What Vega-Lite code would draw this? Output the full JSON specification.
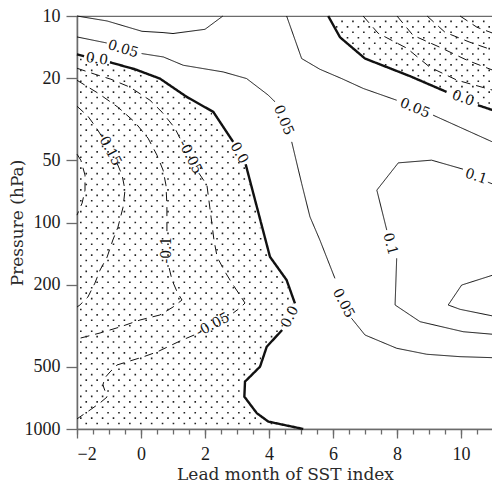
{
  "$schema": "https://vega.github.io/schema/vega-lite/v6.json",
  "width": 416,
  "height": 413,
  "autosize": "none",
  "padding": {"left": 77, "top": 16, "right": 0, "bottom": 58},
  "background": "white",
  "config": {
    "view": {"stroke": "#6b6b6b", "strokeWidth": 1.2},
    "axis": {
      "grid": false,
      "domainColor": "#6b6b6b",
      "domainWidth": 1.5,
      "tickColor": "#6b6b6b",
      "tickWidth": 1.3,
      "labelFont": "Liberation Serif",
      "labelFontSize": 18,
      "labelColor": "#1a1a1a",
      "titleFont": "DejaVu Serif",
      "titleFontSize": 17,
      "titleFontWeight": "normal",
      "titleColor": "#2a2a2a"
    }
  },
  "datasets": {
    "contours": [
      {"level": 0.1, "seg": "p01a", "x": -2, "p": 10},
      {"level": 0.1, "seg": "p01a", "x": -1.06, "p": 10.57},
      {"level": 0.1, "seg": "p01a", "x": 0.03, "p": 11.86},
      {"level": 0.1, "seg": "p01a", "x": 0.69, "p": 12.03},
      {"level": 0.1, "seg": "p01a", "x": 1.0, "p": 12.16},
      {"level": 0.1, "seg": "p01a", "x": 2.0, "p": 11.6},
      {"level": 0.1, "seg": "p01a", "x": 2.56, "p": 10},

      {"level": 0.05, "seg": "p005a", "x": -2, "p": 12.63},
      {"level": 0.05, "seg": "p005a", "x": -1.07, "p": 13.51},
      {"level": 0.05, "seg": "p005b", "x": 0.02, "p": 15.2},
      {"level": 0.05, "seg": "p005b", "x": 0.7, "p": 15.79},
      {"level": 0.05, "seg": "p005b", "x": 1.32, "p": 17.32},
      {"level": 0.05, "seg": "p005b", "x": 2.57, "p": 18.66},
      {"level": 0.05, "seg": "p005b", "x": 3.3, "p": 20.09},
      {"level": 0.05, "seg": "p005b", "x": 3.98, "p": 24.19},
      {"level": 0.05, "seg": "p005b", "x": 4.19, "p": 26.07},
      {"level": 0.05, "seg": "p005c", "x": 4.71, "p": 40.7},
      {"level": 0.05, "seg": "p005c", "x": 4.92, "p": 55.78},
      {"level": 0.05, "seg": "p005c", "x": 5.02, "p": 64.69},
      {"level": 0.05, "seg": "p005c", "x": 5.28, "p": 93.85},
      {"level": 0.05, "seg": "p005c", "x": 5.59, "p": 121.6},
      {"level": 0.05, "seg": "p005c", "x": 6.06, "p": 186.4},
      {"level": 0.05, "seg": "p005d", "x": 6.58, "p": 291.1},
      {"level": 0.05, "seg": "p005d", "x": 7.0, "p": 350.6},
      {"level": 0.05, "seg": "p005d", "x": 7.99, "p": 406.5},
      {"level": 0.05, "seg": "p005d", "x": 8.93, "p": 434.6},
      {"level": 0.05, "seg": "p005d", "x": 9.97, "p": 446.4},
      {"level": 0.05, "seg": "p005d", "x": 11, "p": 451.5},

      {"level": 0.05, "seg": "p005e", "x": 4.55, "p": 10},
      {"level": 0.05, "seg": "p005e", "x": 5.02, "p": 16.07},
      {"level": 0.05, "seg": "p005e", "x": 5.59, "p": 18.11},
      {"level": 0.05, "seg": "p005e", "x": 6.27, "p": 20.09},
      {"level": 0.05, "seg": "p005e", "x": 6.95, "p": 22.45},
      {"level": 0.05, "seg": "p005e", "x": 7.99, "p": 25.58},
      {"level": 0.05, "seg": "p005f", "x": 9.13, "p": 30.22},
      {"level": 0.05, "seg": "p005f", "x": 11, "p": 40.83},

      {"level": 0, "seg": "z0a", "x": -2, "p": 15.32},
      {"level": 0, "seg": "z0a", "x": -1.78, "p": 15.67},
      {"level": 0, "seg": "z0b", "x": -0.97, "p": 16.75},
      {"level": 0, "seg": "z0b", "x": -0.19, "p": 18.11},
      {"level": 0, "seg": "z0b", "x": 0.59, "p": 20.09},
      {"level": 0, "seg": "z0b", "x": 1.43, "p": 24.65},
      {"level": 0, "seg": "z0b", "x": 2.26, "p": 29.13},
      {"level": 0, "seg": "z0b", "x": 2.88, "p": 40.7},
      {"level": 0, "seg": "z0c", "x": 3.27, "p": 52.19},
      {"level": 0, "seg": "z0c", "x": 3.62, "p": 83.95},
      {"level": 0, "seg": "z0c", "x": 4.03, "p": 146.6},
      {"level": 0, "seg": "z0c", "x": 4.55, "p": 189.9},
      {"level": 0, "seg": "z0c", "x": 4.81, "p": 246.3},
      {"level": 0, "seg": "z0d", "x": 4.41, "p": 331.7},
      {"level": 0, "seg": "z0d", "x": 3.93, "p": 399.4},
      {"level": 0, "seg": "z0d", "x": 3.72, "p": 499},
      {"level": 0, "seg": "z0d", "x": 3.25, "p": 589.7},
      {"level": 0, "seg": "z0d", "x": 3.23, "p": 697.1},
      {"level": 0, "seg": "z0d", "x": 3.62, "p": 838.7},
      {"level": 0, "seg": "z0d", "x": 3.98, "p": 920.9},
      {"level": 0, "seg": "z0d", "x": 5.07, "p": 1000},

      {"level": 0, "seg": "z0e", "x": 5.85, "p": 10},
      {"level": 0, "seg": "z0e", "x": 6.22, "p": 12.68},
      {"level": 0, "seg": "z0e", "x": 7.0, "p": 16.07},
      {"level": 0, "seg": "z0e", "x": 8.41, "p": 19.57},
      {"level": 0, "seg": "z0e", "x": 9.55, "p": 23.32},
      {"level": 0, "seg": "z0f", "x": 10.53, "p": 27.04},
      {"level": 0, "seg": "z0f", "x": 11, "p": 28.59},

      {"level": 0.1, "seg": "p01b", "x": 11, "p": 65.2},
      {"level": 0.1, "seg": "p01b", "x": 10.84, "p": 63.77},
      {"level": 0.1, "seg": "p01c", "x": 10.06, "p": 55.16},
      {"level": 0.1, "seg": "p01c", "x": 9.08, "p": 49.9},
      {"level": 0.1, "seg": "p01c", "x": 8.04, "p": 51.43},
      {"level": 0.1, "seg": "p01c", "x": 7.37, "p": 69.71},
      {"level": 0.1, "seg": "p01c", "x": 7.68, "p": 108.8},
      {"level": 0.1, "seg": "p01d", "x": 7.99, "p": 149.2},
      {"level": 0.1, "seg": "p01d", "x": 7.94, "p": 250.9},
      {"level": 0.1, "seg": "p01d", "x": 8.72, "p": 302.2},
      {"level": 0.1, "seg": "p01d", "x": 10.07, "p": 338.0},
      {"level": 0.1, "seg": "p01d", "x": 11, "p": 347.8},

      {"level": 0.15, "seg": "p015", "x": 11, "p": 179.7},
      {"level": 0.15, "seg": "p015", "x": 10.02, "p": 200.9},
      {"level": 0.15, "seg": "p015", "x": 9.6, "p": 250.9},
      {"level": 0.15, "seg": "p015", "x": 9.97, "p": 263.3},
      {"level": 0.15, "seg": "p015", "x": 11, "p": 283.7},

      {"level": -0.05, "seg": "n005a", "x": -2, "p": 17.91},
      {"level": -0.05, "seg": "n005a", "x": -1.44, "p": 19.14},
      {"level": -0.05, "seg": "n005a", "x": -0.94, "p": 20.24},
      {"level": -0.05, "seg": "n005a", "x": -0.34, "p": 22.13},
      {"level": -0.05, "seg": "n005a", "x": 0.28, "p": 25.58},
      {"level": -0.05, "seg": "n005a", "x": 0.66, "p": 29.24},
      {"level": -0.05, "seg": "n005a", "x": 1.06, "p": 34.94},
      {"level": -0.05, "seg": "n005a", "x": 1.28, "p": 40.83},
      {"level": -0.05, "seg": "n005b", "x": 1.81, "p": 57.68},
      {"level": -0.05, "seg": "n005b", "x": 2.06, "p": 65.94},
      {"level": -0.05, "seg": "n005b", "x": 2.19, "p": 94.17},
      {"level": -0.05, "seg": "n005b", "x": 2.28, "p": 121.6},
      {"level": -0.05, "seg": "n005b", "x": 2.38, "p": 147.1},
      {"level": -0.05, "seg": "n005b", "x": 2.63, "p": 173.8},
      {"level": -0.05, "seg": "n005b", "x": 2.84, "p": 196.5},
      {"level": -0.05, "seg": "n005b", "x": 3.09, "p": 224.5},
      {"level": -0.05, "seg": "n005b", "x": 3.25, "p": 245.5},
      {"level": -0.05, "seg": "n005b", "x": 3.09, "p": 259.5},
      {"level": -0.05, "seg": "n005b", "x": 2.88, "p": 274.4},
      {"level": -0.05, "seg": "n005c", "x": 1.66, "p": 350.6},
      {"level": -0.05, "seg": "n005c", "x": 1.22, "p": 374.9},
      {"level": -0.05, "seg": "n005c", "x": 0.5, "p": 423.6},
      {"level": -0.05, "seg": "n005c", "x": 0.06, "p": 447.9},
      {"level": -0.05, "seg": "n005c", "x": -0.75, "p": 489.7},
      {"level": -0.05, "seg": "n005c", "x": -0.97, "p": 529.5},
      {"level": -0.05, "seg": "n005c", "x": -1.13, "p": 565.9},
      {"level": -0.05, "seg": "n005c", "x": -1.19, "p": 611.9},
      {"level": -0.05, "seg": "n005c", "x": -1.06, "p": 699.4},
      {"level": -0.05, "seg": "n005c", "x": -1.28, "p": 747.5},
      {"level": -0.05, "seg": "n005c", "x": -1.59, "p": 808.5},
      {"level": -0.05, "seg": "n005c", "x": -1.91, "p": 873.9},
      {"level": -0.05, "seg": "n005c", "x": -2, "p": 893.8},

      {"level": -0.1, "seg": "n01a", "x": -2, "p": 20.47},
      {"level": -0.1, "seg": "n01a", "x": -1.34, "p": 23.66},
      {"level": -0.1, "seg": "n01a", "x": -0.72, "p": 27.65},
      {"level": -0.1, "seg": "n01a", "x": -0.19, "p": 32.68},
      {"level": -0.1, "seg": "n01a", "x": 0.22, "p": 39.06},
      {"level": -0.1, "seg": "n01a", "x": 0.5, "p": 47.21},
      {"level": -0.1, "seg": "n01a", "x": 0.69, "p": 55.78},
      {"level": -0.1, "seg": "n01a", "x": 0.78, "p": 65.94},
      {"level": -0.1, "seg": "n01a", "x": 0.81, "p": 82.37},
      {"level": -0.1, "seg": "n01a", "x": 0.81, "p": 111.3},
      {"level": -0.1, "seg": "n01b", "x": 0.88, "p": 166.2},
      {"level": -0.1, "seg": "n01b", "x": 0.97, "p": 189.9},
      {"level": -0.1, "seg": "n01b", "x": 1.13, "p": 217.1},
      {"level": -0.1, "seg": "n01b", "x": 1.28, "p": 237.4},
      {"level": -0.1, "seg": "n01b", "x": 1.0, "p": 256.7},
      {"level": -0.1, "seg": "n01b", "x": 0.59, "p": 280.5},
      {"level": -0.1, "seg": "n01b", "x": -0.03, "p": 296.6},
      {"level": -0.1, "seg": "n01b", "x": -0.66, "p": 320.7},
      {"level": -0.1, "seg": "n01b", "x": -1.28, "p": 342.8},
      {"level": -0.1, "seg": "n01b", "x": -2, "p": 366.5},

      {"level": -0.15, "seg": "n015a", "x": -2, "p": 27.35},
      {"level": -0.15, "seg": "n015a", "x": -1.66, "p": 30.56},
      {"level": -0.15, "seg": "n015a", "x": -1.41, "p": 34.55},
      {"level": -0.15, "seg": "n015a", "x": -1.25, "p": 37.78},
      {"level": -0.15, "seg": "n015b", "x": -0.75, "p": 51.6},
      {"level": -0.15, "seg": "n015b", "x": -0.59, "p": 58.97},
      {"level": -0.15, "seg": "n015b", "x": -0.5, "p": 69.71},
      {"level": -0.15, "seg": "n015b", "x": -0.56, "p": 84.24},
      {"level": -0.15, "seg": "n015b", "x": -0.72, "p": 105.3},
      {"level": -0.15, "seg": "n015b", "x": -0.88, "p": 121.6},
      {"level": -0.15, "seg": "n015b", "x": -1.06, "p": 147.1},
      {"level": -0.15, "seg": "n015b", "x": -1.28, "p": 170},
      {"level": -0.15, "seg": "n015b", "x": -1.44, "p": 196.5},
      {"level": -0.15, "seg": "n015b", "x": -1.66, "p": 229.6},
      {"level": -0.15, "seg": "n015b", "x": -1.91, "p": 250.9},
      {"level": -0.15, "seg": "n015b", "x": -2, "p": 256.7},

      {"level": -0.2, "seg": "n02", "x": -2, "p": 46.68},
      {"level": -0.2, "seg": "n02", "x": -1.88, "p": 49.9},
      {"level": -0.2, "seg": "n02", "x": -1.75, "p": 58.97},
      {"level": -0.2, "seg": "n02", "x": -1.75, "p": 69.71},
      {"level": -0.2, "seg": "n02", "x": -1.84, "p": 80.55},
      {"level": -0.2, "seg": "n02", "x": -2, "p": 92.09},

      {"level": -0.05, "seg": "n005tr", "x": 6.94, "p": 10},
      {"level": -0.05, "seg": "n005tr", "x": 7.41, "p": 12.12},
      {"level": -0.05, "seg": "n005tr", "x": 8.31, "p": 14.33},
      {"level": -0.05, "seg": "n005tr", "x": 9.03, "p": 17.71},
      {"level": -0.05, "seg": "n005tr", "x": 9.88, "p": 20.47},
      {"level": -0.05, "seg": "n005tr", "x": 11, "p": 22.88},
      {"level": -0.1, "seg": "n01tr", "x": 8.0, "p": 10},
      {"level": -0.1, "seg": "n01tr", "x": 8.5, "p": 12.4},
      {"level": -0.1, "seg": "n01tr", "x": 9.34, "p": 14.17},
      {"level": -0.1, "seg": "n01tr", "x": 10.19, "p": 16.38},
      {"level": -0.1, "seg": "n01tr", "x": 11, "p": 18.31},
      {"level": -0.15, "seg": "n015tr", "x": 8.94, "p": 10},
      {"level": -0.15, "seg": "n015tr", "x": 9.5, "p": 11.99},
      {"level": -0.15, "seg": "n015tr", "x": 10.28, "p": 13.4},
      {"level": -0.15, "seg": "n015tr", "x": 11, "p": 14.65},
      {"level": -0.2, "seg": "n02tr", "x": 9.97, "p": 10},
      {"level": -0.2, "seg": "n02tr", "x": 10.5, "p": 11.34},
      {"level": -0.2, "seg": "n02tr", "x": 11, "p": 12.12}
    ],
    "labels": [
      {"text": "0.05", "x": -0.56, "p": 14.49, "angle": 17},
      {"text": "0.05", "x": 4.45, "p": 31.96, "angle": 67},
      {"text": "0.05", "x": 6.32, "p": 246.3, "angle": 62},
      {"text": "0.05", "x": 8.56, "p": 28.05, "angle": 22},
      {"text": "0.0", "x": -1.38, "p": 16.2, "angle": 8},
      {"text": "0.0", "x": 3.06, "p": 46.17, "angle": 60},
      {"text": "0.0", "x": 4.66, "p": 286.9, "angle": -64},
      {"text": "0.0", "x": 10.06, "p": 25.09, "angle": 20},
      {"text": "0.1", "x": 10.47, "p": 59.98, "angle": 18},
      {"text": "0.1", "x": 7.78, "p": 127.2, "angle": 75},
      {"text": "-0.05", "x": 1.53, "p": 48.27, "angle": 63},
      {"text": "-0.05", "x": 2.25, "p": 313.6, "angle": -28},
      {"text": "-0.1", "x": 0.81, "p": 136.0, "angle": -90},
      {"text": "-0.15", "x": -1.0, "p": 44.14, "angle": 62}
    ],
    "stipple": [
      {"row": 1, "p": 10.62, "from": 11, "to": 6.0},
      {"row": 2, "p": 11.29, "from": 11, "to": 6.09},
      {"row": 3, "p": 11.99, "from": 11, "to": 6.19},
      {"row": 4, "p": 12.74, "from": 11, "to": 6.31},
      {"row": 5, "p": 13.54, "from": 11, "to": 6.5},
      {"row": 6, "p": 14.39, "from": 11, "to": 6.69},
      {"row": 7, "p": 15.28, "from": 11, "to": 6.91},
      {"row": 8, "p": 16.24, "from": 11, "to": 7.16},
      {"row": 9, "p": 17.25, "from": 11, "to": 7.59},
      {"row": 10, "p": 18.33, "from": 11, "to": 8.0},
      {"row": 11, "p": 19.48, "from": 11, "to": 8.44},
      {"row": 12, "p": 20.69, "from": 11, "to": 8.84},
      {"row": 13, "p": 21.98, "from": 11, "to": 9.22},
      {"row": 14, "p": 23.36, "from": 11, "to": 9.63},
      {"row": 15, "p": 24.82, "from": 11, "to": 10.06},
      {"row": 16, "p": 26.37, "from": 11, "to": 10.41},
      {"row": 17, "p": 28.01, "from": 11, "to": 10.88},

      {"row": 8, "p": 16.24, "from": -2, "to": -1.35},
      {"row": 9, "p": 17.25, "from": -2, "to": -0.73},
      {"row": 10, "p": 18.33, "from": -2, "to": -0.15},
      {"row": 11, "p": 19.48, "from": -2, "to": 0.32},
      {"row": 12, "p": 20.69, "from": -2, "to": 0.67},
      {"row": 13, "p": 21.98, "from": -2, "to": 0.9},
      {"row": 14, "p": 23.36, "from": -2, "to": 1.15},
      {"row": 15, "p": 24.82, "from": -2, "to": 1.39},
      {"row": 16, "p": 26.37, "from": -2, "to": 1.68},
      {"row": 17, "p": 28.01, "from": -2, "to": 1.98},
      {"row": 18, "p": 29.76, "from": -2, "to": 2.22},
      {"row": 19, "p": 31.62, "from": -2, "to": 2.33},
      {"row": 20, "p": 33.6, "from": -2, "to": 2.45},
      {"row": 21, "p": 35.7, "from": -2, "to": 2.56},
      {"row": 22, "p": 37.93, "from": -2, "to": 2.68},
      {"row": 23, "p": 40.3, "from": -2, "to": 2.79},
      {"row": 24, "p": 42.81, "from": -2, "to": 2.88},
      {"row": 25, "p": 45.49, "from": -2, "to": 2.98},
      {"row": 26, "p": 48.33, "from": -2, "to": 3.08},
      {"row": 27, "p": 51.35, "from": -2, "to": 3.2},
      {"row": 28, "p": 54.56, "from": -2, "to": 3.27},
      {"row": 29, "p": 57.96, "from": -2, "to": 3.31},
      {"row": 30, "p": 61.59, "from": -2, "to": 3.35},
      {"row": 31, "p": 65.43, "from": -2, "to": 3.39},
      {"row": 32, "p": 69.52, "from": -2, "to": 3.43},
      {"row": 33, "p": 73.86, "from": -2, "to": 3.48},
      {"row": 34, "p": 78.48, "from": -2, "to": 3.52},
      {"row": 35, "p": 83.38, "from": -2, "to": 3.56},
      {"row": 36, "p": 88.59, "from": -2, "to": 3.6},
      {"row": 37, "p": 94.12, "from": -2, "to": 3.64},
      {"row": 38, "p": 100, "from": -2, "to": 3.69},
      {"row": 39, "p": 106.2, "from": -2, "to": 3.73},
      {"row": 40, "p": 112.9, "from": -2, "to": 3.78},
      {"row": 41, "p": 119.9, "from": -2, "to": 3.82},
      {"row": 42, "p": 127.4, "from": -2, "to": 3.87},
      {"row": 43, "p": 135.4, "from": -2, "to": 3.91},
      {"row": 44, "p": 143.9, "from": -2, "to": 3.95},
      {"row": 45, "p": 152.8, "from": -2, "to": 4.05},
      {"row": 46, "p": 162.4, "from": -2, "to": 4.18},
      {"row": 47, "p": 172.5, "from": -2, "to": 4.3},
      {"row": 48, "p": 183.3, "from": -2, "to": 4.43},
      {"row": 49, "p": 194.8, "from": -2, "to": 4.53},
      {"row": 50, "p": 206.9, "from": -2, "to": 4.58},
      {"row": 51, "p": 219.8, "from": -2, "to": 4.64},
      {"row": 52, "p": 233.6, "from": -2, "to": 4.7},
      {"row": 53, "p": 248.2, "from": -2, "to": 4.74},
      {"row": 54, "p": 263.7, "from": -2, "to": 4.68},
      {"row": 55, "p": 280.1, "from": -2, "to": 4.62},
      {"row": 56, "p": 297.6, "from": -2, "to": 4.53},
      {"row": 57, "p": 316.2, "from": -2, "to": 4.43},
      {"row": 58, "p": 336.0, "from": -2, "to": 4.31},
      {"row": 59, "p": 357.0, "from": -2, "to": 4.16},
      {"row": 60, "p": 379.3, "from": -2, "to": 4.01},
      {"row": 61, "p": 403.0, "from": -2, "to": 3.87},
      {"row": 62, "p": 428.1, "from": -2, "to": 3.81},
      {"row": 63, "p": 454.9, "from": -2, "to": 3.75},
      {"row": 64, "p": 483.3, "from": -2, "to": 3.69},
      {"row": 65, "p": 513.5, "from": -2, "to": 3.58},
      {"row": 66, "p": 545.6, "from": -2, "to": 3.42},
      {"row": 67, "p": 579.6, "from": -2, "to": 3.24},
      {"row": 68, "p": 615.9, "from": -2, "to": 3.18},
      {"row": 69, "p": 654.3, "from": -2, "to": 3.17},
      {"row": 70, "p": 695.2, "from": -2, "to": 3.16},
      {"row": 71, "p": 738.6, "from": -2, "to": 3.28},
      {"row": 72, "p": 784.8, "from": -2, "to": 3.42},
      {"row": 73, "p": 833.8, "from": -2, "to": 3.56},
      {"row": 74, "p": 885.9, "from": -2, "to": 3.77},
      {"row": 75, "p": 941.2, "from": -2, "to": 4.17}
    ]
  },
  "layer": [
    {
      "data": {"name": "contours"},
      "mark": {"type": "line", "color": "#111"},
      "encoding": {
        "x": {"field": "x", "type": "quantitative", "scale": {"domain": [-2, 11], "nice": false, "zero": false},
          "axis": {"orient": "bottom", "values": [-2, 0, 2, 4, 6, 8, 10], "format": "d", "tickSize": 9, "labelPadding": 7, "title": "Lead month of SST index", "titlePadding": 3}},
        "y": {"field": "p", "type": "quantitative", "scale": {"type": "log", "domain": [10, 1000], "reverse": true},
          "axis": {"orient": "left", "values": [10, 20, 50, 100, 200, 500, 1000], "format": "d", "tickSize": 11, "labelPadding": 6, "title": "Pressure (hPa)", "titlePadding": -2}},
        "detail": {"field": "seg"},
        "order": {"value": null},
        "strokeDash": {"condition": {"test": "datum.level < 0", "value": [9, 6]}, "value": [1, 0]},
        "strokeWidth": {"condition": {"test": "datum.level === 0", "value": 2.4}, "value": 1}
      }
    },
    {
      "data": {"name": "stipple"},
      "transform": [{"filter": "datum.row % 2 === 0"}],
      "mark": {"type": "rule", "strokeDash": [1.6, 9.3], "strokeDashOffset": 7.9, "strokeWidth": 1.6, "color": "#222"},
      "encoding": {
        "x": {"field": "from", "type": "quantitative", "scale": {"domain": [-2, 11], "nice": false, "zero": false},
          "axis": {"orient": "bottom", "values": [-2, -1.5, -1, -0.5, 0, 0.5, 1, 1.5, 2, 2.5, 3, 3.5, 4, 4.5, 5, 5.5, 6, 6.5, 7, 7.5, 8, 8.5, 9, 9.5, 10, 10.5, 11], "labels": false, "domain": false, "tickSize": 5, "title": null}},
        "x2": {"field": "to"},
        "y": {"field": "p", "type": "quantitative", "scale": {"type": "log", "domain": [10, 1000], "reverse": true},
          "axis": {"orient": "left", "values": [10, 20, 50, 100, 200, 500, 1000], "format": "d", "tickSize": 11, "labelPadding": 6, "title": "Pressure (hPa)", "titlePadding": -2}}
      }
    },
    {
      "data": {"name": "stipple"},
      "transform": [{"filter": "datum.row % 2 === 1"}],
      "mark": {"type": "rule", "strokeDash": [1.6, 9.3], "strokeDashOffset": 2.45, "strokeWidth": 1.6, "color": "#222"},
      "encoding": {
        "x": {"field": "from", "type": "quantitative", "scale": {"domain": [-2, 11], "nice": false, "zero": false}, "axis": null},
        "x2": {"field": "to"},
        "y": {"field": "p", "type": "quantitative", "scale": {"type": "log", "domain": [10, 1000], "reverse": true},
          "axis": {"orient": "left", "values": [10, 20, 50, 100, 200, 500, 1000], "format": "d", "tickSize": 11, "labelPadding": 6, "title": "Pressure (hPa)", "titlePadding": -2}}
      }
    },
    {
      "data": {"name": "labels"},
      "mark": {"type": "text", "font": "DejaVu Serif", "fontSize": 14, "color": "#111", "align": "center", "baseline": "middle"},
      "encoding": {
        "x": {"field": "x", "type": "quantitative", "scale": {"domain": [-2, 11], "nice": false, "zero": false}, "axis": null},
        "y": {"field": "p", "type": "quantitative", "scale": {"type": "log", "domain": [10, 1000], "reverse": true},
          "axis": {"orient": "left", "values": [10, 20, 50, 100, 200, 500, 1000], "format": "d", "tickSize": 11, "labelPadding": 6, "title": "Pressure (hPa)", "titlePadding": -2}},
        "text": {"field": "text"},
        "angle": {"field": "angle", "type": "quantitative", "scale": null}
      }
    }
  ],
  "resolve": {"axis": {"x": "independent"}}
}
